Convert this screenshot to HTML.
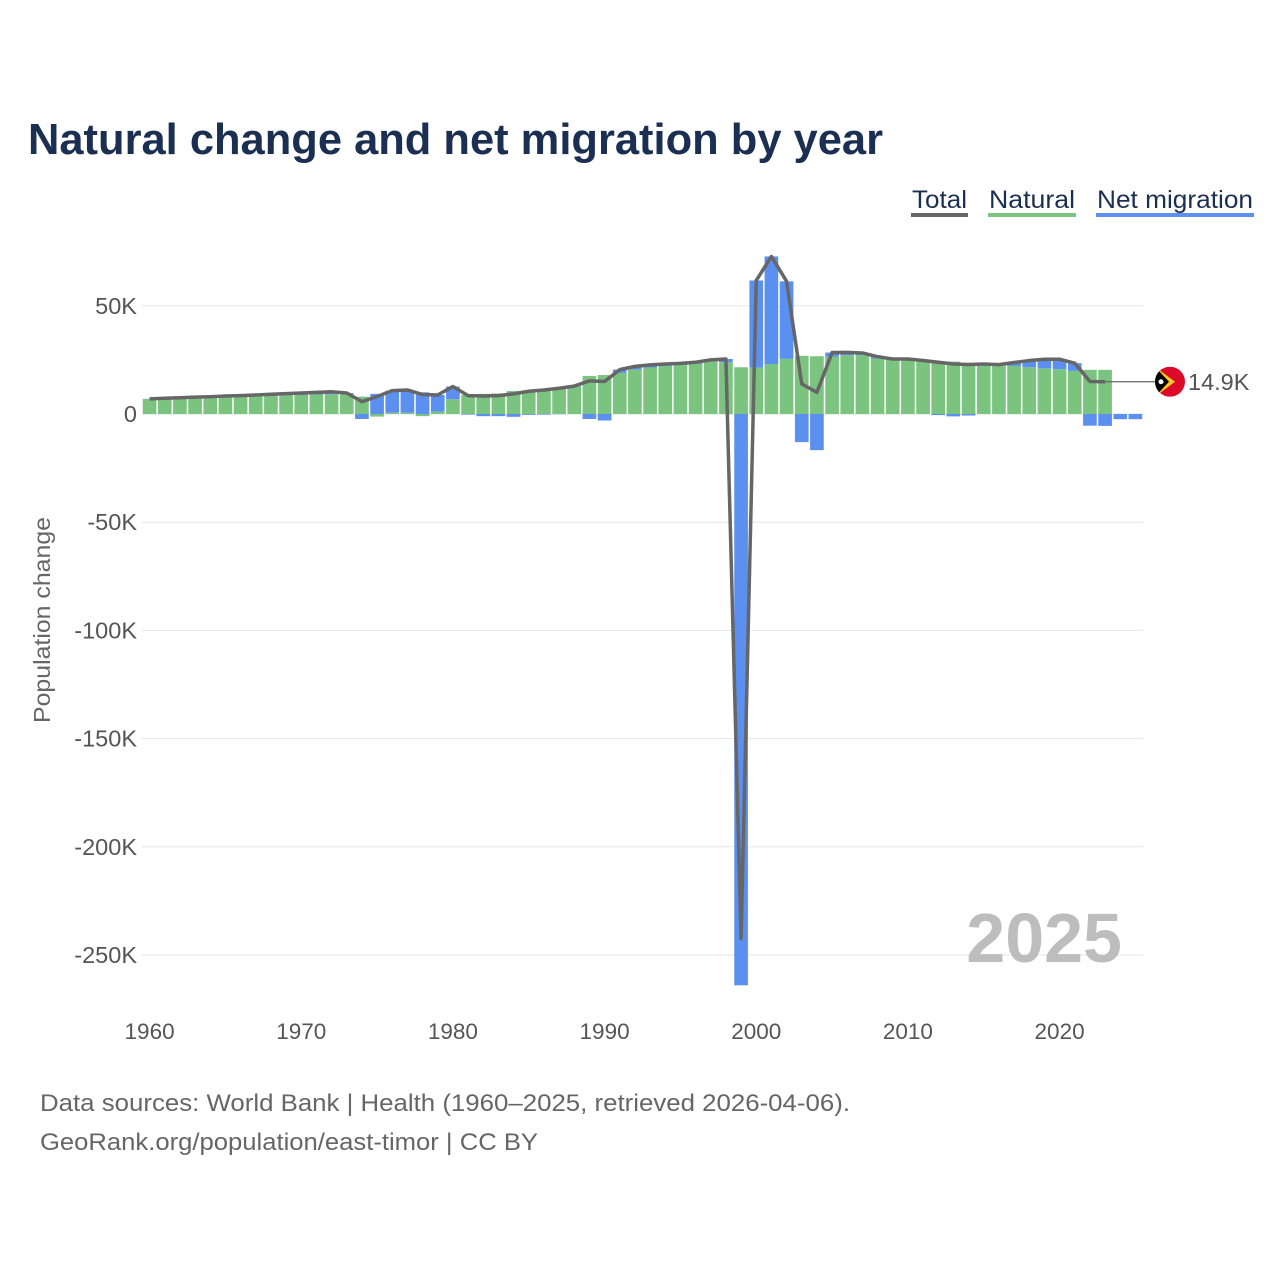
<!DOCTYPE html>
<html><head><meta charset="utf-8">
<style>
body{margin:0;background:#fff;}
svg{display:block;font-family:"Liberation Sans",sans-serif;}
</style></head>
<body>
<svg id="chart" width="1280" height="1280" viewBox="0 0 1280 1280">
  <rect width="1280" height="1280" fill="#fff"/>
  <text x="28" y="154" font-size="44" font-weight="bold" fill="#1b2f52" textLength="855" lengthAdjust="spacingAndGlyphs">Natural change and net migration by year</text>
  <g>
    <g>
      <text x="912" y="208" font-size="25" fill="#1b2f52" textLength="55" lengthAdjust="spacingAndGlyphs">Total</text>
      <rect x="911" y="213" width="57" height="4" fill="#666"/>
    </g>
    <g>
      <text x="989" y="208" font-size="25" fill="#1b2f52" textLength="86" lengthAdjust="spacingAndGlyphs">Natural</text>
      <rect x="988" y="213" width="88" height="4" fill="#7bc47f"/>
    </g>
    <g>
      <text x="1097" y="208" font-size="25" fill="#1b2f52" textLength="156" lengthAdjust="spacingAndGlyphs">Net migration</text>
      <rect x="1096" y="213" width="158" height="4" fill="#5b8ff0"/>
    </g>
  </g>
  <g id="grid"></g>
  <g id="bars"></g>
  <g id="lineg"></g>
  <text x="50" y="620" font-size="23" fill="#666" text-anchor="middle" textLength="206" lengthAdjust="spacingAndGlyphs" transform="rotate(-90 50 620)">Population change</text>
  <text x="1122" y="962" font-size="70" font-weight="bold" fill="#bdbdbd" text-anchor="end">2025</text>
  <text x="40" y="1111" font-size="24" fill="#666" textLength="810" lengthAdjust="spacingAndGlyphs">Data sources: World Bank | Health (1960–2025, retrieved 2026-04-06).</text>
  <text x="40" y="1150" font-size="24" fill="#666" textLength="498" lengthAdjust="spacingAndGlyphs">GeoRank.org/population/east-timor | CC BY</text>
</svg>
<script>
const years = [];
for (let y = 1960; y <= 2025; y++) years.push(y);
const natural = [6.8,7.0,7.2,7.4,7.6,7.8,8.0,8.2,8.4,8.6,8.8,9.0,9.1,9.2,8.0,-1.2,0.6,0.6,-1.0,1.1,6.8,8.8,9.3,9.5,10.6,10.9,11.4,12.0,12.6,17.6,18.0,19.0,20.5,21.5,22.2,22.6,23.2,24.3,23.9,21.6,21.4,23.1,25.5,26.9,26.7,26.5,27.2,27.2,25.6,25.2,25.0,24.7,24.4,24.2,23.6,23.1,22.6,22.2,21.6,21.1,20.7,19.9,20.4,20.4,null,null];
const migration = [0.2,0.3,0.3,0.4,0.4,0.5,0.5,0.6,0.7,0.8,0.9,1.0,1.2,0.5,-2.3,9.3,10.2,10.5,10.0,7.7,5.9,-0.3,-1.0,-1.0,-1.3,-0.4,-0.3,-0.1,0.3,-2.3,-3.0,1.5,1.5,1.2,0.9,0.8,0.7,0.7,1.5,-264,40.3,49.7,35.8,-13.0,-16.7,1.9,1.3,1.0,0.9,0.2,0.4,0.0,-0.5,-1.1,-0.7,0.0,0.2,1.6,3.1,4.2,4.6,3.6,-5.4,-5.5,-2.4,-2.4];
const yTicks = [50,0,-50,-100,-150,-200,-250];
const yTickLabels = ["50K","0","-50K","-100K","-150K","-200K","-250K"];
const xTicks = [1960,1970,1980,1990,2000,2010,2020];
const lastLabel = "14.9K";

const NS = "http://www.w3.org/2000/svg";
const X0 = 142, X1 = 1143;
const step = (X1 - X0) / years.length;
function xBand(yr){ return X0 + (yr - years[0]) * step; }
function xCenter(yr){ return xBand(yr) + step / 2; }
function yScale(v){ return 414 - v * 2.164; }
function mk(tag, attrs, parent){ const e = document.createElementNS(NS, tag); for (const k in attrs) e.setAttribute(k, attrs[k]); parent.appendChild(e); return e; }

const grid = document.getElementById('grid');
yTicks.forEach((t, i) => {
  const l = mk('line', {x1:X0, x2:X1, y1:yScale(t), y2:yScale(t), stroke:'#e6e6e6', 'stroke-width':1}, grid);
  
  
  const tx = mk('text', {x:137, y:yScale(t)+8, 'font-size':23.5, fill:'#555', 'text-anchor':'end'}, grid);
  tx.textContent = yTickLabels[i];
  
  
});
xTicks.forEach(t => {
  const tx = mk('text', {x:xCenter(t), y:1039, 'font-size':22.5, fill:'#555', 'text-anchor':'middle'}, grid);
  tx.textContent = t;
  
  
});

const bars = document.getElementById('bars');
years.forEach((yr, i) => {
  const x = xBand(yr) + 0.75, w = step - 1.5;
  const n = natural[i], m = migration[i];
  let posBase = 0, negBase = 0;
  if (n !== null) {
    const top = n >= 0 ? yScale(n) : yScale(0);
    const h = Math.abs(yScale(n) - yScale(0));
    const r = mk('rect', {x:x, y:top, width:w, height:h, fill:'#7bc47f'}, bars);
    
    
    if (n >= 0) posBase = n; else negBase = n;
  }
  if (m !== null) {
    const base = m >= 0 ? posBase : negBase;
    const a = yScale(base), b = yScale(base + m);
    const r = mk('rect', {x:x, y:Math.min(a,b), width:w, height:Math.abs(b-a), fill:'#5b8ff0'}, bars);
    
    
  }
});

const lineg = document.getElementById('lineg');
const pts = [];
years.forEach((yr, i) => {
  if (natural[i] !== null && migration[i] !== null) pts.push([xCenter(yr), yScale(natural[i] + migration[i])]);
});
const pl = mk('polyline', {points: pts.map(p => p.join(',')).join(' '), fill:'none', stroke:'#666', 'stroke-width':3.5, 'stroke-linejoin':'round'}, lineg);


const last = pts[pts.length - 1];
const lead = mk('line', {x1:last[0], y1:last[1], x2:1160, y2:last[1], stroke:'#666', 'stroke-width':1.2}, lineg);


const flag = mk('g', {}, lineg);


const fy = last[1], fx = 1170;
const cp = mk('clipPath', {id:'fc'}, flag);
mk('circle', {cx:fx, cy:fy, r:15}, cp);
const fg = mk('g', {'clip-path':'url(#fc)'}, flag);
mk('rect', {x:fx-15, y:fy-15, width:30, height:30, fill:'#dc0a28'}, fg);
mk('polygon', {points:`${fx-15},${fy-15} ${fx+5},${fy} ${fx-15},${fy+15}`, fill:'#ffc726'}, fg);
mk('polygon', {points:`${fx-15},${fy-15} ${fx-1},${fy} ${fx-15},${fy+15}`, fill:'#000'}, fg);
mk('circle', {cx:fx-9, cy:fy, r:2.5, fill:'#fff'}, fg);
const el = mk('text', {x:1188, y:fy+8, 'font-size':23.5, fill:'#555'}, lineg);
el.textContent = lastLabel;


</script>
</body></html>
